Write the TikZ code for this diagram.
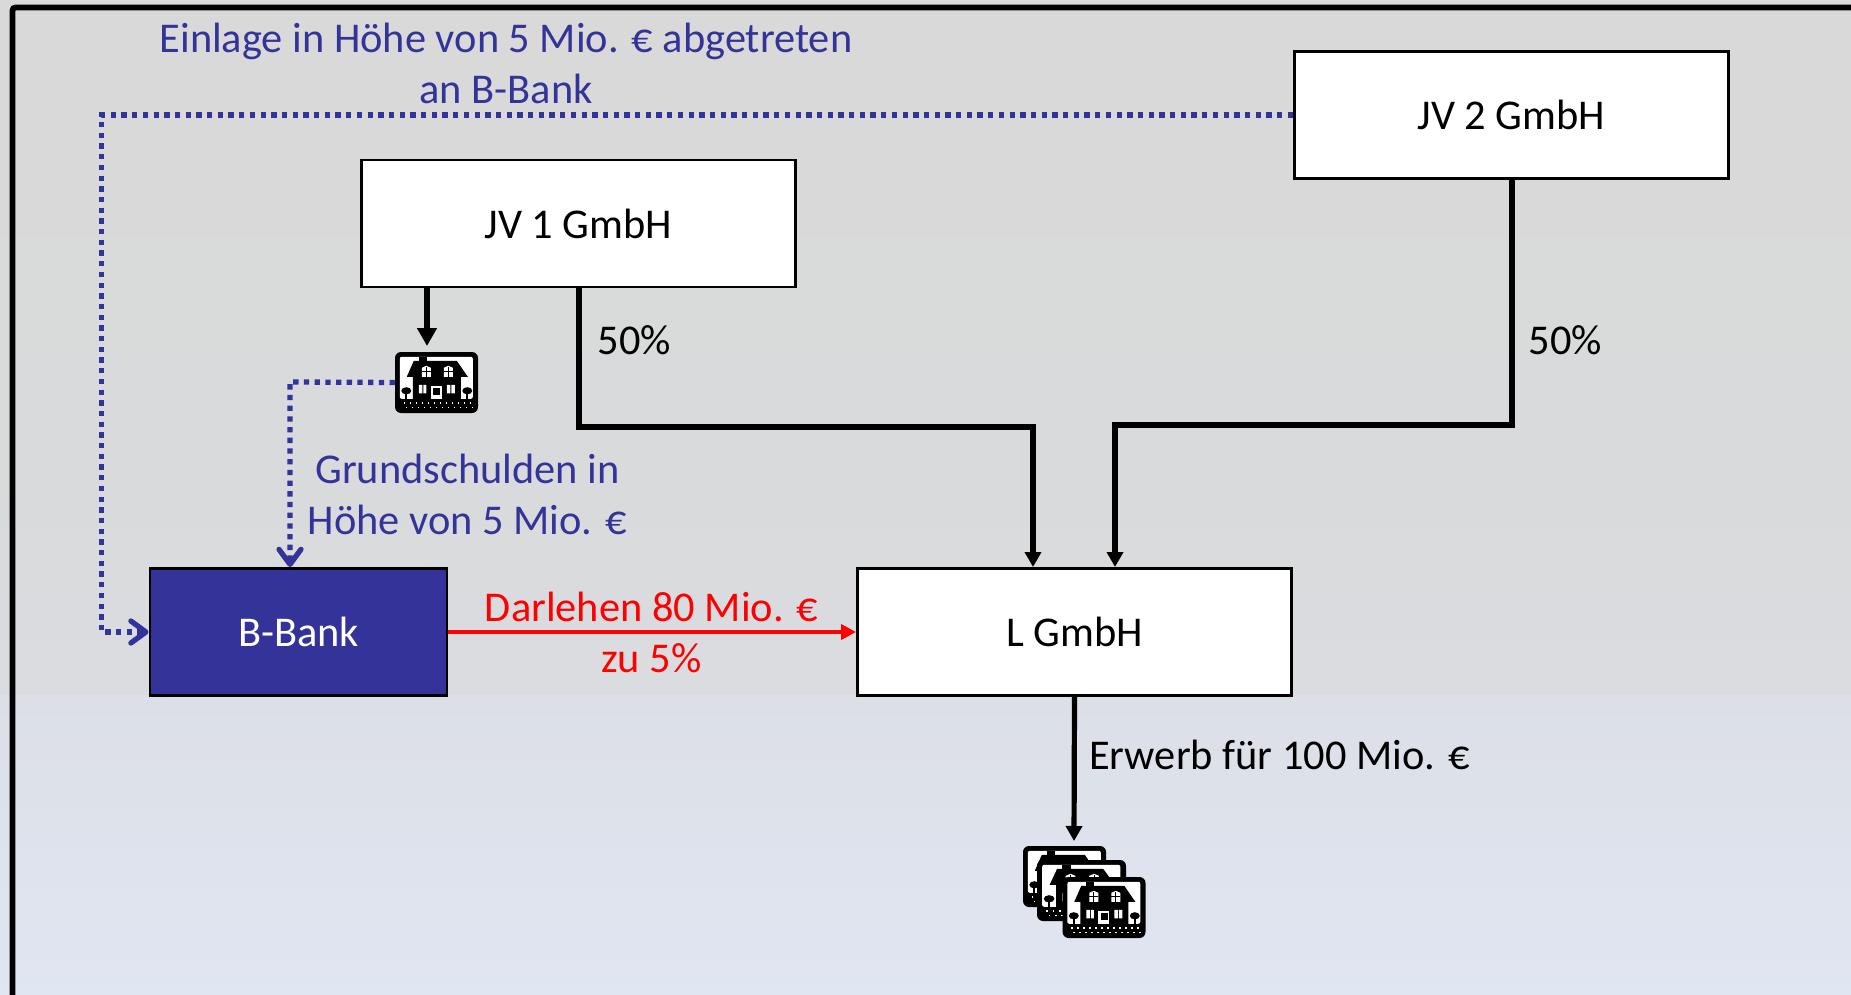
\documentclass[tikz,border=0pt]{standalone}
\usepackage{fontspec}
\setmainfont{Carlito}
\usetikzlibrary{arrows.meta,calc}
\definecolor{bankblue}{HTML}{333399}
\definecolor{bga}{HTML}{D9D9D9}
\definecolor{bgb}{HTML}{D9DADB}
\definecolor{bgc}{HTML}{DBDCE0}
\definecolor{bgd}{HTML}{DCDFE6}
\definecolor{bge}{HTML}{E0E6F2}
\tikzset{
  box/.style={draw=black,line width=2.9pt,fill=white,minimum width=434pt,minimum height=127pt,inner sep=0pt,font=\fontsize{42.4}{51}\selectfont,text=black},
  lab/.style={inner sep=0pt,align=center,font=\fontsize{42.4}{51}\selectfont},
  solidarrow/.style={draw=black,line width=5.4pt,-{Triangle[length=18pt,width=19pt]}},
  owner/.style={draw=black,line width=5.2pt,-{Triangle[length=15pt,width=16pt]}},
  dotline/.style={draw=bankblue,line width=5.3pt,dash pattern=on 5.3pt off 5.4pt,-{Straight Barb[length=15pt,width=22pt,line width=5.3pt,round]}},
  redline/.style={draw=red,line width=4.2pt,-{Triangle[length=15pt,width=15pt]}},
  housebox/.style={fill=black,rounded corners=6pt,minimum width=83pt,minimum height=61pt,inner sep=0pt},
  house/.pic={
    \fill[white,rounded corners=2pt] (5,5) rectangle (78,47);
    \fill[black] (12,25) -- (19,9) -- (62,9) -- (73,25) -- (66,25) -- (66,47) -- (18,47) -- (18,25) -- cycle;
    \fill[black] (24,5.5) rectangle (32,10);
    \foreach \wx in {27,49}{
      \fill[white] (\wx,25) -- (\wx,16) -- (\wx+4.5,14) -- (\wx+9,16) -- (\wx+9,25) -- cycle;
      \draw[black,line width=0.9pt] (\wx+4.5,15) -- (\wx+4.5,25) (\wx,20) -- (\wx+9,20);
    }
    \fill[white] (24,33) rectangle (27.5,41.5) (28.5,33) rectangle (31.5,41.5);
    \fill[white] (52,33) rectangle (55.5,41.5) (56.5,33) rectangle (60,41.5);
    \fill[white] (36,34) rectangle (47,47);
    \fill[black] (38.5,36) rectangle (45.5,43);
    \fill[black] (11.5,39) ellipse (5 and 3.6);
    \fill[black] (72.5,39) ellipse (5 and 3.6);
    \fill[black] (10.5,40) rectangle (12.5,47);
    \fill[black] (71.5,40) rectangle (73.5,47);
    \foreach \dx in {9,15,...,75}{
      \fill[white] (\dx,50.5) rectangle +(1.4,1.4);
      \fill[white] (\dx+2,55) rectangle +(1.4,1.4);
    }
  }
}
\begin{document}
\begin{tikzpicture}[x=1pt,y=-1pt]
\useasboundingbox (0,0) rectangle (1851,995);
\shade[top color=bga,bottom color=bgb] (0,0) rectangle (1851,470);
\shade[top color=bgb,bottom color=bgc] (0,469.5) rectangle (1851,696);
\shade[top color=bgd,bottom color=bge] (0,695.5) rectangle (1851,995);
\draw[black,line width=5.8pt,rounded corners=3pt] (12.5,997) -- (12.5,7.5) -- (1853,7.5);

\node[box] (jv2) at (1511.5,115) {JV 2 GmbH};
\node[box] (jv1) at (578.5,223.5) {JV 1 GmbH};
\node[box] (lg) at (1074.5,632) {L GmbH};
\node[box,fill=bankblue,minimum width=297pt,text=white] (bb) at (298.5,632) {B-Bank};

\node[housebox] (h1) at (436.5,382.5) {};
\pic at (h1.north west) {house};
\node[housebox] (s1) at (1064.5,876.5) {};
\pic at (s1.north west) {house};
\node[housebox,minimum width=89pt] (s2) at (1081.5,890.5) {};
\pic[xscale=1.07] at (s2.north west) {house};
\node[housebox] (s3) at (1104,907.5) {};
\pic at (s3.north west) {house};

\coordinate (h1in) at (427,346);
\coordinate (jv1h) at (427,288);
\coordinate (bbin) at (290,567);
\coordinate (bbside) at (101.7,632);
\coordinate (jv1own) at (579,288);
\coordinate (lgone) at (1033,567);
\coordinate (jv2own) at (1512,179);
\coordinate (lgtwo) at (1115,567);
\coordinate (stacktop) at (1074,841);

\draw[solidarrow] (jv1h) -- (h1in);
\draw[owner] (jv1own) -- (579,427) -- (1033,427) -- (lgone);
\draw[owner] (jv2own) -- (1512,425) -- (1115,425) -- (lgtwo);
\draw[owner] (lg.south) -- (stacktop);
\draw[redline] (bb.east) -- (lg.west);
\draw[dotline] (jv2.west) -- (101.7,115) -- (bbside) -- (bb.west);
\draw[dotline] (h1.west) -- (290,382) -- (bbin);

\node[lab,text=bankblue] (t1) at (506,63.5) {Einlage in Höhe von 5 Mio. € abgetreten\\an B-Bank};
\node[lab,text=bankblue] (t2) at (467.5,494) {Grundschulden in\\Höhe von 5 Mio. €};
\node[lab,text=red] (t3) at (651.5,632) {Darlehen 80 Mio. €\\zu 5\%};
\node[lab] (t4) at (634.5,340) {50\%};
\node[lab] (t5) at (1565.5,340) {50\%};
\node[lab,anchor=west] (t6) at (1089,754.5) {Erwerb für 100 Mio. €};
\end{tikzpicture}
\end{document}
